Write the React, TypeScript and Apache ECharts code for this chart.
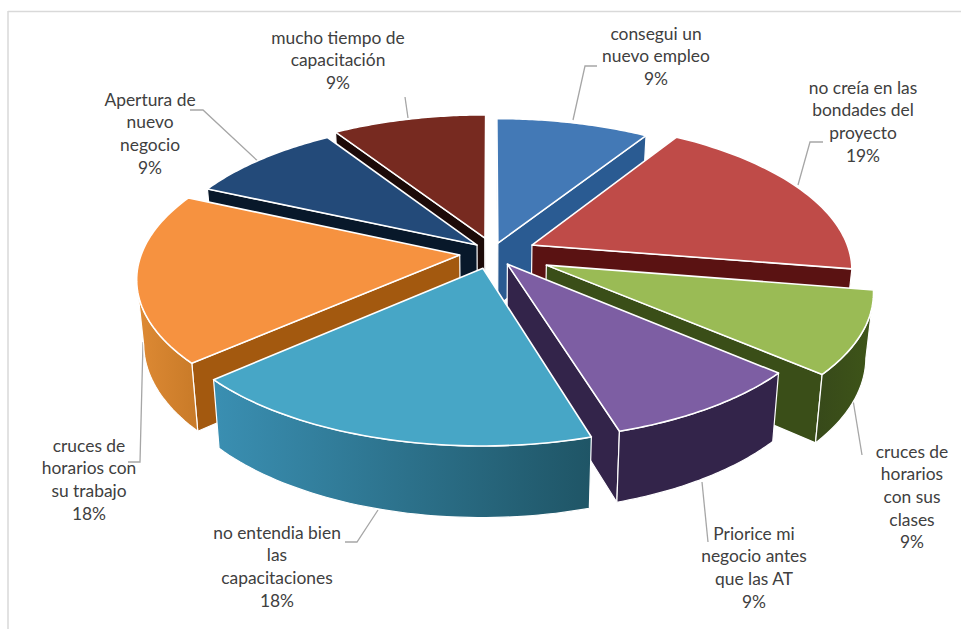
import React, { useEffect, useRef } from "react";
import * as echarts from "echarts";

// Survey answers, clockwise from twelve o'clock
const categories = [
  "consegui un\nnuevo empleo",
  "no creía en las\nbondades del\nproyecto",
  "cruces de\nhorarios\ncon sus\nclases",
  "Priorice mi\nnegocio antes\nque las AT",
  "no entendia bien\nlas\ncapacitaciones",
  "cruces de\nhorarios con\nsu trabajo",
  "Apertura de\nnuevo\nnegocio",
  "mucho tiempo de\ncapacitación",
];
const shares = [9, 19, 9, 9, 18, 18, 9, 9];

const topColors = ["#4379b6", "#bf4b48", "#9abb55", "#7d5ea3", "#47a6c6", "#f69240", "#234a79", "#772a20"];
const cutColors = ["#2a5b92", "#5a1212", "#3a4e18", "#33244a", "#1f5a6e", "#a3590f", "#08182a", "#1c0a08"];
const wallLeft = ["#2a5b92", "#5a1212", "#37491a", "#33244a", "#3a8fb2", "#de8a34", "#1a3a60", "#4a1a14"];
const wallRight = ["#2a5b92", "#7a2020", "#3e5518", "#33244a", "#1f5566", "#c87a28", "#1a3a60", "#4a1a14"];

// How far each slice is pulled out of the pie, in radii (right, towards viewer)
const pullRight = [0.025, 0.133, 0.175, 0.054, -0.022, -0.095, -0.041, -0.016];
const pullFront = [-0.068, -0.055, 0.082, 0.075, 0.103, 0.014, -0.055, -0.103];

// Pie projection: ellipse radii, perspective strength, wall height
const CX = 490;
const CY = 253;
const RX = 318;
const RY = 146;
const PERSPECTIVE = 0.15;
const DEPTH = 63;
const BASE_SHRINK = 0.98;
const ANGLE_SKEW = (2.5 * Math.PI) / 180;

type Pt = [number, number];

// Unit-disc point (u to the right, v towards the viewer) onto the screen
function project(u: number, v: number, lower: boolean): Pt {
  const f = 1 / (1 - PERSPECTIVE * v);
  const k = lower ? BASE_SHRINK : 1;
  return [CX + RX * u * f * k, CY + RY * v * f * k + (lower ? DEPTH * f : 0)];
}

const total = shares.reduce((a, b) => a + b, 0);
const starts: number[] = [];
shares.reduce((acc, v, i) => {
  starts[i] = acc;
  return acc + (v / total) * Math.PI * 2;
}, 0);

// Back slices are painted first
const paintRank = shares
  .map((v, i) => ({ i, c: -Math.cos(starts[i] + (v / total) * Math.PI) }))
  .sort((a, b) => a.c - b.c)
  .reduce<Record<number, number>>((m, e, r) => ((m[e.i] = r), m), {});

function renderSlice(params: any, api: any) {
  const i = params.dataIndex;
  const a0 = starts[i];
  const a1 = a0 + (api.value(1) / total) * Math.PI * 2;
  const ou = pullRight[i];
  const ov = pullFront[i];
  // The camera foreshortens the far side of the disc unevenly, so angles lean back a little
  const lean = (a: number) => a - ANGLE_SKEW * Math.sin(a / 2) ** 2;
  const rim = (a: number, lower: boolean) =>
    project(ou + Math.sin(lean(a)), ov - Math.cos(lean(a)), lower);
  const steps = 48;
  const angles = Array.from({ length: steps + 1 }, (_, s) => a0 + ((a1 - a0) * s) / steps);
  const apexTop = project(ou, ov, false);
  const apexLow = project(ou, ov, true);
  const top = angles.map((a) => rim(a, false));
  const z = paintRank[i] * 10;
  const children: any[] = [];
  const white = { stroke: "#ffffff", lineWidth: 1.2, lineJoin: "round" };

  const first = top[0];
  const last = top[top.length - 1];
  if (first[0] < apexTop[0]) {
    children.push({
      type: "polygon",
      z2: z + 1,
      shape: { points: [apexTop, first, rim(a0, true), apexLow] },
      style: { fill: cutColors[i], ...white },
    });
  }
  if (last[0] > apexTop[0]) {
    children.push({
      type: "polygon",
      z2: z + 1,
      shape: { points: [apexTop, last, rim(a1, true), apexLow] },
      style: { fill: cutColors[i], ...white },
    });
  }
  // Rim wall: only the stretch that runs right-to-left on screen faces the viewer
  const visible = angles.filter((a, s) => {
    const next = angles[Math.min(s + 1, steps)];
    const prev = angles[Math.max(s - 1, 0)];
    return rim(next, false)[0] < rim(prev, false)[0];
  });
  if (visible.length > 1) {
    children.push({
      type: "polygon",
      z2: z + 2,
      shape: {
        points: [
          ...visible.map((a) => rim(a, false)),
          ...visible.slice().reverse().map((a) => rim(a, true)),
        ],
      },
      style: {
        fill: new echarts.graphic.LinearGradient(0, 0, 1, 0, [
          { offset: 0, color: wallLeft[i] },
          { offset: 1, color: wallRight[i] },
        ]),
        ...white,
      },
    });
  }
  children.push({
    type: "polygon",
    z2: z + 3,
    shape: { points: [apexTop, ...top] },
    style: { fill: topColors[i], stroke: "#ffffff", lineWidth: 1.6, lineJoin: "round" },
  });
  return { type: "group", children };
}

const LEADER = "#a6a6a6";
const TEXT = "#404040";

// Where each label block sits and the elbow of its leader line
const labelCenters: Pt[] = [
  [656, 22],
  [863, 76],
  [912, 440],
  [754, 522],
  [277, 521],
  [89, 434],
  [150, 88],
  [338, 26],
];
const leaders: Pt[][] = [
  [[597, 66], [585, 66], [573, 120]],
  [[823, 142], [810, 142], [798, 185]],
  [[862, 455], [853, 400]],
  [[708, 542], [702, 482]],
  [[345, 542], [357, 542], [378, 510]],
  [[128, 462], [140, 462], [143, 342]],
  [[190, 110], [203, 110], [262, 165]],
  [[405, 97], [408, 118]],
];

export default function App() {
  const ref = useRef<HTMLDivElement>(null);
  useEffect(() => {
    document.body.style.margin = "0";
    const chart = echarts.init(ref.current!, undefined, { renderer: "svg" });
    const graphics: any[] = [
      { type: "line", shape: { x1: 8, y1: 11.5, x2: 961, y2: 11.5 }, style: { stroke: "#d9d9d9", lineWidth: 1.5 } },
      { type: "line", shape: { x1: 8, y1: 11, x2: 8, y2: 629 }, style: { stroke: "#d9d9d9", lineWidth: 1.5 } },
    ];
    leaders.forEach((points) => {
      graphics.push({
        type: "polyline",
        shape: { points },
        style: { stroke: LEADER, lineWidth: 1.3, fill: "none" },
      });
    });
    categories.forEach((name, i) => {
      graphics.push({
        type: "text",
        x: labelCenters[i][0],
        y: labelCenters[i][1],
        style: {
          text: `${name}\n${shares[i]}%`,
          fill: TEXT,
          font: '17.4px Lato, "Open Sans", sans-serif',
          lineHeight: 22.6,
          textAlign: "center",
          textVerticalAlign: "top",
        },
      });
    });
    chart.setOption({
      animation: false,
      backgroundColor: "#ffffff",
      graphic: { elements: graphics },
      series: [
        {
          type: "custom",
          coordinateSystem: "none",
          silent: true,
          renderItem: renderSlice,
          data: shares.map((v, i) => [i, v]),
        },
      ],
    });
    return () => chart.dispose();
  }, []);
  return <div ref={ref} style={{ width: 961, height: 629 }} />;
}
